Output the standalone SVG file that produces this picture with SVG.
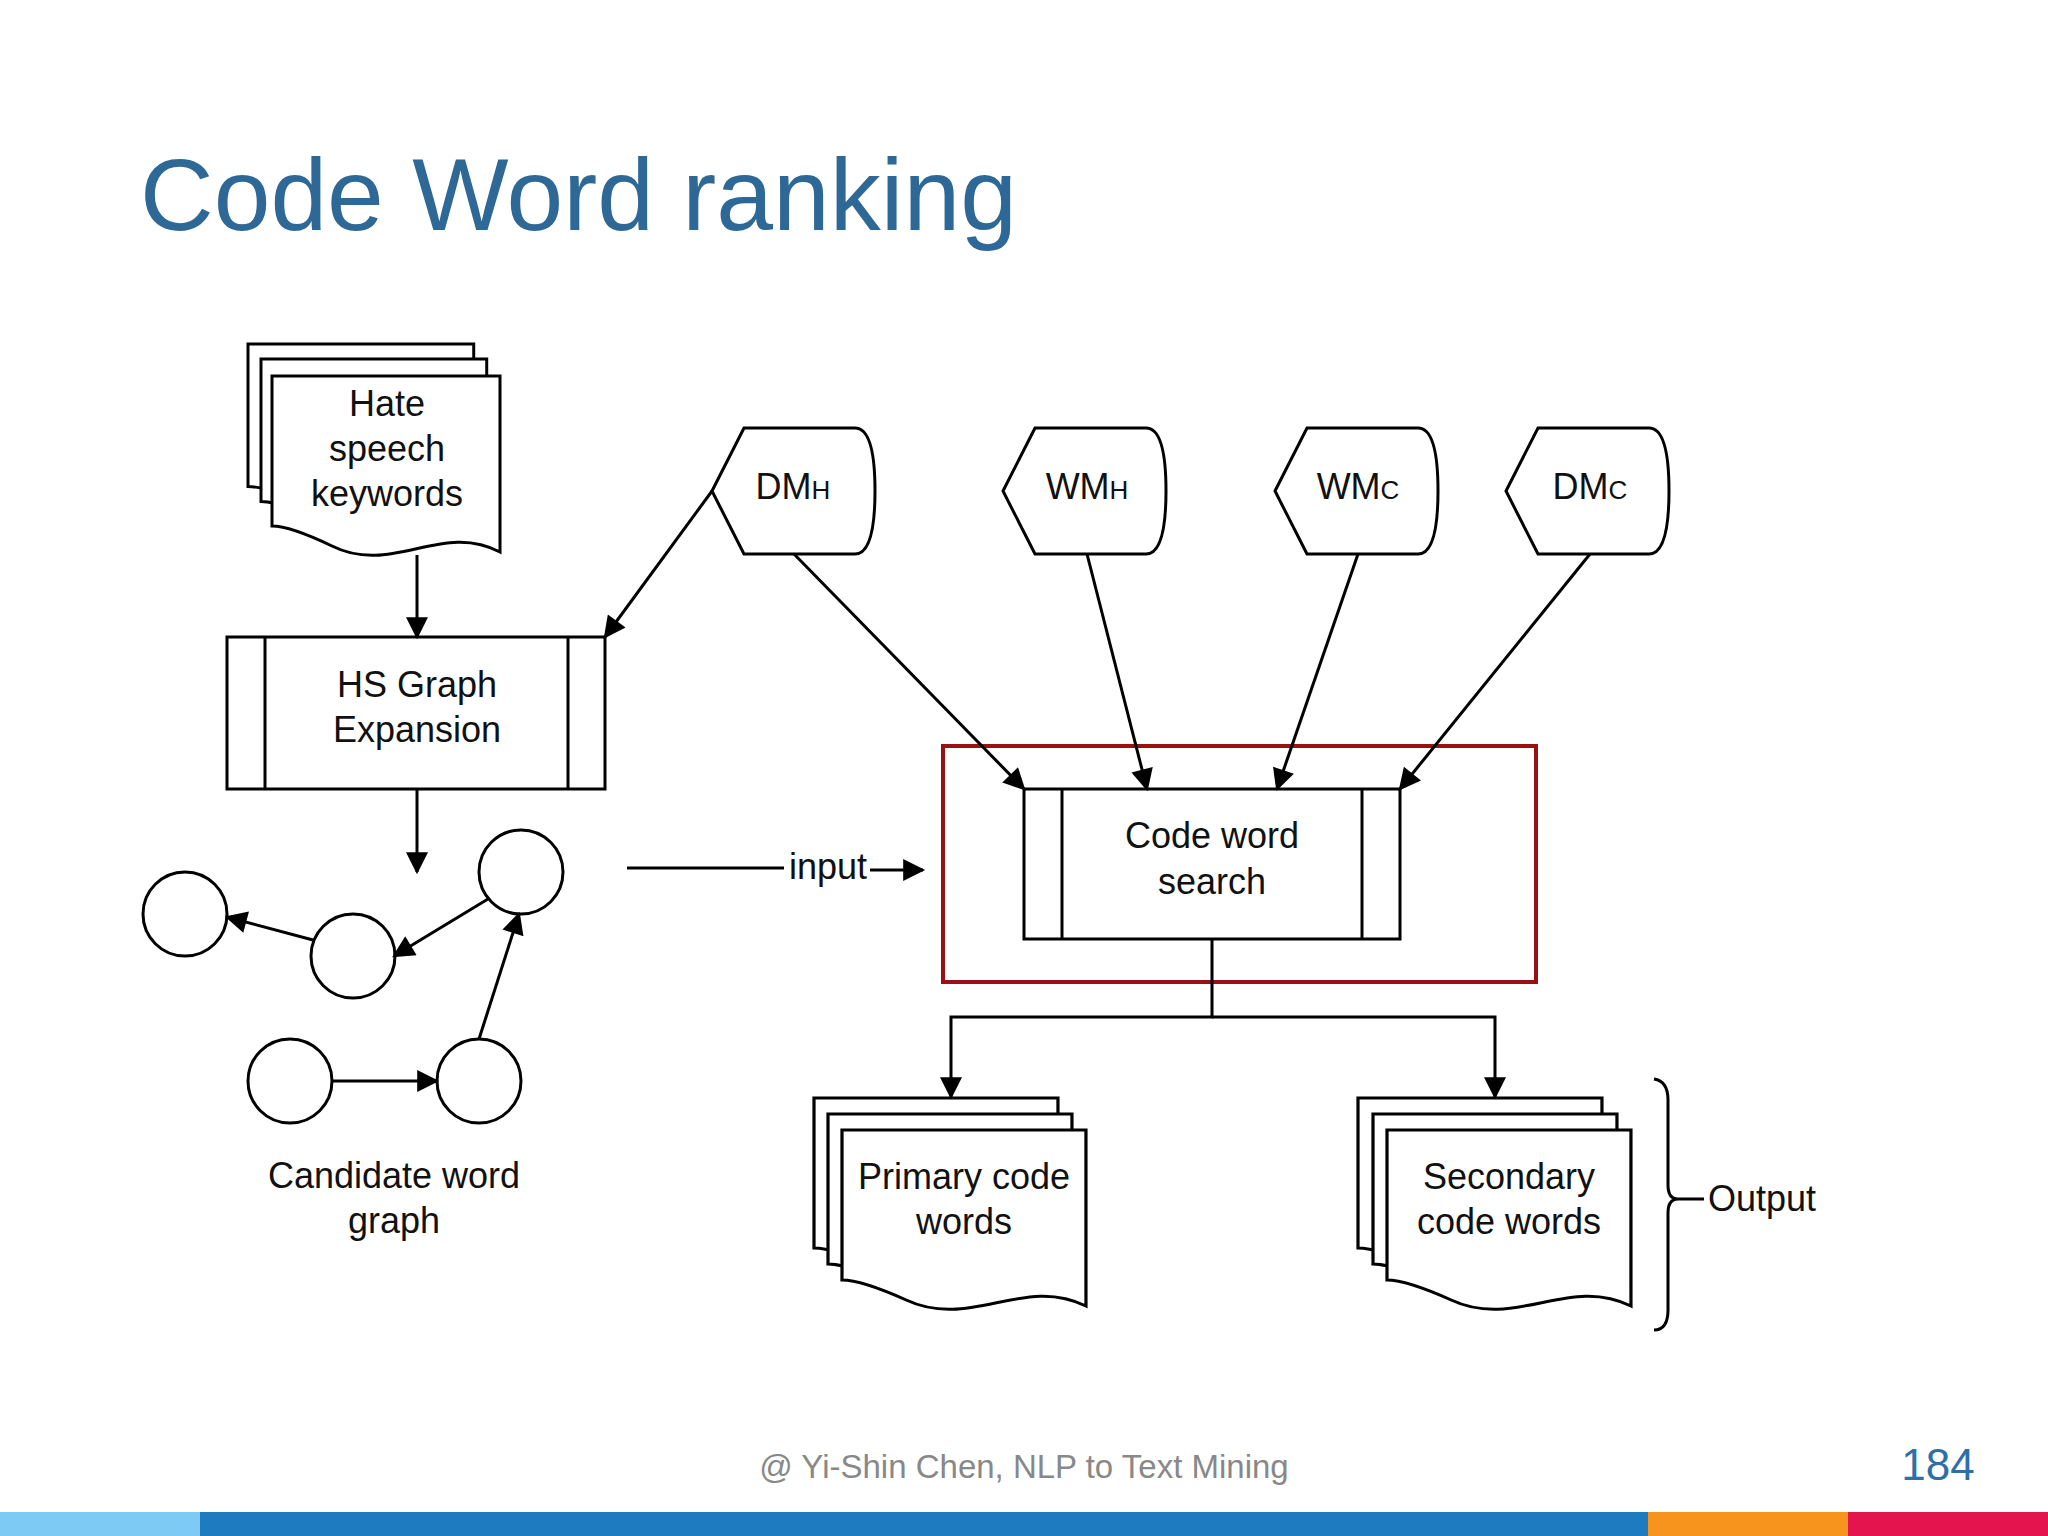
<svg xmlns="http://www.w3.org/2000/svg" width="2048" height="1536" viewBox="0 0 2048 1536">
<style>
.s{fill:#fff;stroke:#000;stroke-width:3}
.l{fill:none;stroke:#000;stroke-width:3}
.t{font-family:"Liberation Sans",Arial,sans-serif;font-size:36px;fill:#111;text-anchor:middle}
</style>
<defs>
<marker id="a" viewBox="0 0 10 10" refX="9" refY="5" markerWidth="24" markerHeight="22" markerUnits="userSpaceOnUse" orient="auto"><path d="M0,0 L10,5 L0,10 Z" fill="#000"/></marker>
<path id="doc" d="M0,0 H228 V176 C170,145 120,200 60,170 C35,158 15,150 0,150 Z"/>
<path id="disp" d="M0,63 L32,0 L143,0 Q163,0 163,63 Q163,126 143,126 L32,126 Z"/>
</defs>
<rect width="2048" height="1536" fill="#fff"/>
<text x="140" y="230" font-family="'Liberation Sans',Arial,sans-serif" font-size="102" fill="#2e6896">Code Word ranking</text>

<g id="hate">
<use href="#doc" class="s" transform="translate(248,344) scale(0.99,0.95)"/>
<use href="#doc" class="s" transform="translate(261,359) scale(0.99,0.95)"/>
<use href="#doc" class="s" transform="translate(272,376) scale(1,1)"/>
<text class="t" x="387" y="416">Hate</text><text class="t" x="387" y="461">speech</text><text class="t" x="387" y="506">keywords</text>
</g>
<g id="hs">
<rect class="s" x="227" y="637" width="378" height="152"/><line class="l" x1="265" y1="637" x2="265" y2="789"/><line class="l" x1="568" y1="637" x2="568" y2="789"/>
<text class="t" x="417" y="697">HS Graph</text><text class="t" x="417" y="742">Expansion</text>
</g>
<g id="dmh"><use href="#disp" class="s" x="712" y="428"/><text class="t" x="793" y="499">DM<tspan font-size="26">H</tspan></text></g>
<g id="wmh"><use href="#disp" class="s" x="1003" y="428"/><text class="t" x="1087" y="499">WM<tspan font-size="26">H</tspan></text></g>
<g id="wmc"><use href="#disp" class="s" x="1275" y="428"/><text class="t" x="1358" y="499">WM<tspan font-size="26">C</tspan></text></g>
<g id="dmc"><use href="#disp" class="s" x="1506" y="428"/><text class="t" x="1590" y="499">DM<tspan font-size="26">C</tspan></text></g>
<g id="cws">
<rect class="s" x="1024" y="789" width="376" height="150"/><line class="l" x1="1062" y1="789" x2="1062" y2="939"/><line class="l" x1="1362" y1="789" x2="1362" y2="939"/>
<text class="t" x="1212" y="848">Code word</text><text class="t" x="1212" y="894">search</text>
</g>
<rect id="highlight" x="943" y="746" width="593" height="236" fill="none" stroke="#9b1010" stroke-width="4"/>
<g id="graph">
<circle class="s" cx="185" cy="914" r="42"/><circle class="s" cx="353" cy="956" r="42"/><circle class="s" cx="521" cy="872" r="42"/><circle class="s" cx="290" cy="1081" r="42"/><circle class="s" cx="479" cy="1081" r="42"/>
<text class="t" x="394" y="1188">Candidate word</text><text class="t" x="394" y="1233">graph</text>
</g>
<g id="primary">
<use href="#doc" class="s" transform="translate(814,1098) scale(1.07,1)"/>
<use href="#doc" class="s" transform="translate(828,1114) scale(1.07,1)"/>
<use href="#doc" class="s" transform="translate(842,1130) scale(1.07,1)"/>
<text class="t" x="964" y="1189">Primary code</text><text class="t" x="964" y="1234">words</text>
</g>
<g id="secondary">
<use href="#doc" class="s" transform="translate(1358,1098) scale(1.07,1)"/>
<use href="#doc" class="s" transform="translate(1373,1114) scale(1.07,1)"/>
<use href="#doc" class="s" transform="translate(1387,1130) scale(1.07,1)"/>
<text class="t" x="1509" y="1189">Secondary</text><text class="t" x="1509" y="1234">code words</text>
</g>
<g id="output">
<path class="l" d="M1654,1079 Q1668,1081 1668,1100 V1185 Q1668,1199 1678,1199 H1704 M1678,1199 Q1668,1199 1668,1213 V1310 Q1668,1330 1654,1330"/>
<text class="t" x="1762" y="1211">Output</text>
</g>
<g id="connectors" class="l" marker-end="url(#a)">
<line x1="417" y1="555" x2="417" y2="637"/>
<line x1="712" y1="491" x2="605" y2="637"/>
<line x1="794" y1="554" x2="1024" y2="789"/>
<line x1="1087" y1="554" x2="1147" y2="789"/>
<line x1="1358" y1="554" x2="1277" y2="789"/>
<line x1="1590" y1="554" x2="1400" y2="789"/>
<line x1="417" y1="789" x2="417" y2="872"/>
<line x1="313" y1="940" x2="227" y2="917"/>
<line x1="488" y1="899" x2="394" y2="956"/>
<line x1="479" y1="1039" x2="519" y2="914"/>
<line x1="332" y1="1081" x2="437" y2="1081"/>
<line x1="627" y1="868" x2="784" y2="868" marker-end="none"/>
<line x1="870" y1="870" x2="923" y2="870"/>
<path d="M1212,939 V1017 H951 V1097"/>
<path d="M1212,1017 H1495 V1097"/>
</g>
<text class="t" x="828" y="879" stroke="#fff" stroke-width="6" paint-order="stroke">input</text>
<text x="1024" y="1478" font-family="'Liberation Sans',Arial,sans-serif" font-size="33" fill="#888" text-anchor="middle">@ Yi-Shin Chen, NLP to Text Mining</text>
<text x="1938" y="1480" font-family="'Liberation Sans',Arial,sans-serif" font-size="44" fill="#2e6fa8" text-anchor="middle">184</text>
<rect x="0" y="1512" width="200" height="24" fill="#7dcaf5"/>
<rect x="200" y="1512" width="1448" height="24" fill="#1e7bc0"/>
<rect x="1648" y="1512" width="200" height="24" fill="#f7941d"/>
<rect x="1848" y="1512" width="200" height="24" fill="#e4144f"/>
</svg>
